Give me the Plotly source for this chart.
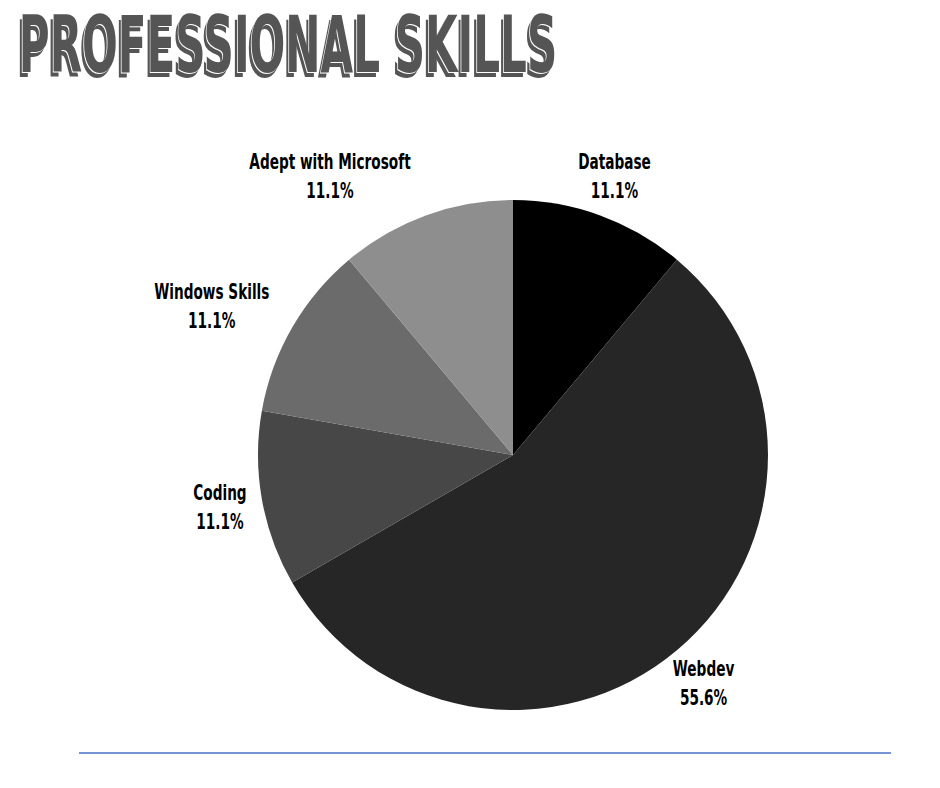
import math
import plotly.graph_objects as go

categories = ["Database", "Webdev", "Coding", "Windows Skills", "Adept with Microsoft"]
values = [1, 5, 1, 1, 1]
colors = ["#000000", "#262626", "#474747", "#6b6b6b", "#8e8e8e"]
title_text = "PROFESSIONAL SKILLS"

W, H = 940, 788
cx, cy, r = 513, 455, 255
label_r = 1.165 * r
# per-label horizontal nudge (pixels) to mimic original label layout
label_xshift = [0, 0, 0, -44, -81]

FONT = "DejaVu Sans, sans-serif"

fig = go.Figure()
fig.add_trace(go.Pie(
    labels=categories,
    values=values,
    sort=False,
    direction="clockwise",
    rotation=0,
    marker=dict(colors=colors, line=dict(width=0)),
    textinfo="none",
    showlegend=False,
    hoverinfo="label+percent",
    domain=dict(x=[(cx - r) / W, (cx + r) / W], y=[(H - cy - r) / H, (H - cy + r) / H]),
    automargin=False,
))

fig.add_annotation(
    x=288 / W, y=1 + 2 / H, xref="paper", yref="paper",
    xanchor="center", yanchor="top", showarrow=False,
    text=title_text,
    font=dict(family=FONT, size=78, color="#555555", weight="bold",
              shadow="-1px 1px 0 #ffffff, -4px 4px 0 #555555"),
)

total = sum(values)
cum = 0
for cat, v, dx in zip(categories, values, label_xshift):
    mid = (cum + v / 2) / total * 2 * math.pi
    cum += v
    px = cx + label_r * math.sin(mid)
    py = cy - label_r * math.cos(mid)
    fig.add_annotation(
        x=px / W, y=1 - py / H, xref="paper", yref="paper",
        xanchor="center", yanchor="middle", showarrow=False,
        xshift=dx,
        text=f"{cat}<br>{v / total * 100:.1f}%",
        font=dict(family=FONT, size=22, color="#000000", weight="bold"),
    )

fig.add_shape(
    type="line", xref="paper", yref="paper",
    x0=79 / W, x1=891 / W, y0=1 - 753 / H, y1=1 - 753 / H,
    line=dict(color="#4a72c8", width=1.5),
)

fig.update_layout(
    width=W, height=H,
    margin=dict(l=0, r=0, t=0, b=0),
    paper_bgcolor="#ffffff",
    plot_bgcolor="#ffffff",
)

css = """
var st = document.createElement('style');
st.textContent = `
.annotation-text { font-stretch: condensed; transform-box: fill-box; transform-origin: center; transform: scaleX(0.69); }
.annotation[data-index="0"] .annotation-text { transform: scaleX(0.60); }
`;
document.head.appendChild(st);
"""

fig.write_html("out.html", post_script=css)
